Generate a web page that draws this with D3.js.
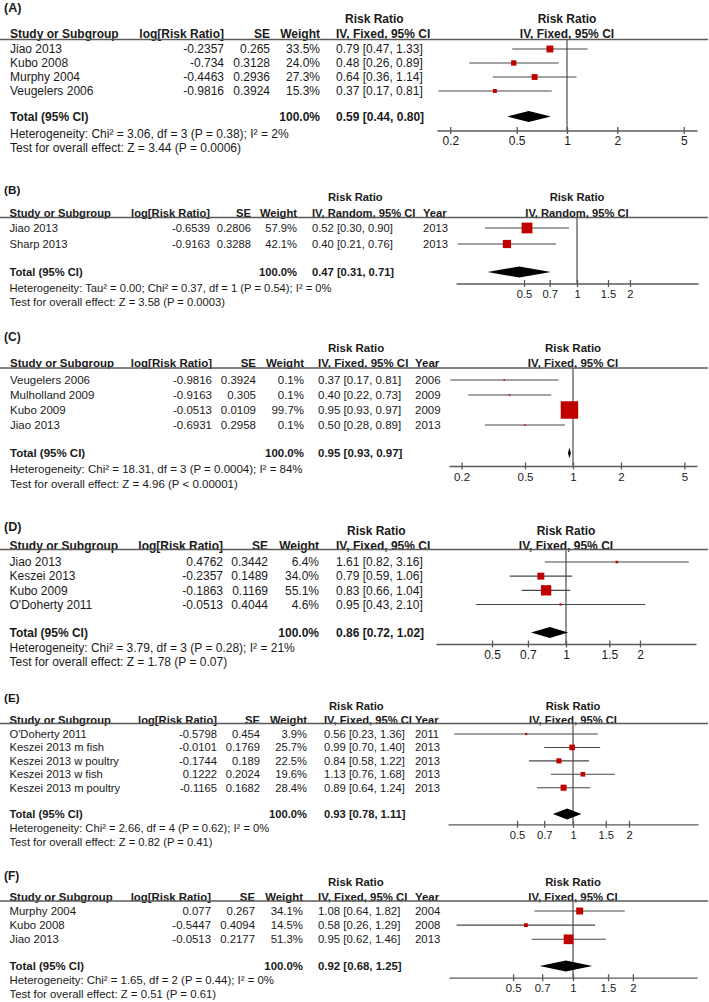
<!DOCTYPE html>
<html>
<head>
<meta charset="utf-8">
<script src="https://cdn.jsdelivr.net/npm/d3@7"></script>
<style>
  body { margin: 0; background: #fff; }
  text { font-family: "Liberation Sans", Arial, sans-serif; fill: #1a1a1a; }
</style>
</head>
<body>
<svg id="chart" width="709" height="1002"></svg>
<script>
// ---- data ----
const studiesA = ["Jiao 2013", "Kubo 2008", "Murphy 2004", "Veugelers 2006"];
const logRRA = [-0.2357, -0.734, -0.4463, -0.9816];
const seA = [0.265, 0.3128, 0.2936, 0.3924];
const weightA = [33.5, 24.0, 27.3, 15.3];
const rrA = [0.79, 0.48, 0.64, 0.37];
const loA = [0.47, 0.26, 0.36, 0.17];
const hiA = [1.33, 0.89, 1.14, 0.81];
const totalA = [0.59, 0.44, 0.80];
const ticksA = [0.2, 0.5, 1, 2, 5];

const studiesB = ["Jiao 2013", "Sharp 2013"];
const logRRB = [-0.6539, -0.9163];
const seB = [0.2806, 0.3288];
const weightB = [57.9, 42.1];
const rrB = [0.52, 0.40];
const loB = [0.30, 0.21];
const hiB = [0.90, 0.76];
const yearsB = [2013, 2013];
const totalB = [0.47, 0.31, 0.71];
const ticksB = [0.5, 0.7, 1, 1.5, 2];

const studiesC = ["Veugelers 2006", "Mulholland 2009", "Kubo 2009", "Jiao 2013"];
const logRRC = [-0.9816, -0.9163, -0.0513, -0.6931];
const seC = [0.3924, 0.305, 0.0109, 0.2958];
const weightC = [0.1, 0.1, 99.7, 0.1];
const rrC = [0.37, 0.40, 0.95, 0.50];
const loC = [0.17, 0.22, 0.93, 0.28];
const hiC = [0.81, 0.73, 0.97, 0.89];
const yearsC = [2006, 2009, 2009, 2013];
const totalC = [0.95, 0.93, 0.97];
const ticksC = [0.2, 0.5, 1, 2, 5];

const studiesD = ["Jiao 2013", "Keszei 2013", "Kubo 2009", "O'Doherty 2011"];
const logRRD = [0.4762, -0.2357, -0.1863, -0.0513];
const seD = [0.3442, 0.1489, 0.1169, 0.4044];
const weightD = [6.4, 34.0, 55.1, 4.6];
const rrD = [1.61, 0.79, 0.83, 0.95];
const loD = [0.82, 0.59, 0.66, 0.43];
const hiD = [3.16, 1.06, 1.04, 2.10];
const totalD = [0.86, 0.72, 1.02];
const ticksD = [0.5, 0.7, 1, 1.5, 2];

const studiesE = ["O'Doherty 2011", "Keszei 2013 m fish", "Keszei 2013 w poultry", "Keszei 2013 w fish", "Keszei 2013 m poultry"];
const logRRE = [-0.5798, -0.0101, -0.1744, 0.1222, -0.1165];
const seE = [0.454, 0.1769, 0.189, 0.2024, 0.1682];
const weightE = [3.9, 25.7, 22.5, 19.6, 28.4];
const rrE = [0.56, 0.99, 0.84, 1.13, 0.89];
const loE = [0.23, 0.70, 0.58, 0.76, 0.64];
const hiE = [1.36, 1.40, 1.22, 1.68, 1.24];
const yearsE = [2011, 2013, 2013, 2013, 2013];
const totalE = [0.93, 0.78, 1.11];
const ticksE = [0.5, 0.7, 1, 1.5, 2];

const studiesF = ["Murphy 2004", "Kubo 2008", "Jiao 2013"];
const logRRF = [0.077, -0.5447, -0.0513];
const seF = [0.267, 0.4094, 0.2177];
const weightF = [34.1, 14.5, 51.3];
const rrF = [1.08, 0.58, 0.95];
const loF = [0.64, 0.26, 0.62];
const hiF = [1.82, 1.29, 1.46];
const yearsF = [2004, 2008, 2013];
const totalF = [0.92, 0.68, 1.25];
const ticksF = [0.5, 0.7, 1, 1.5, 2];

const panels = [
  { tag: "(A)", method: "IV, Fixed, 95% CI", studies: studiesA, logRR: logRRA, se: seA, weight: weightA, rr: rrA, lo: loA, hi: hiA, years: null, total: totalA, ticks: ticksA,
    het: "Heterogeneity: Chi² = 3.06, df = 3 (P = 0.38); I² = 2%", test: "Test for overall effect: Z = 3.44 (P = 0.0006)" },
  { tag: "(B)", method: "IV, Random, 95% CI", studies: studiesB, logRR: logRRB, se: seB, weight: weightB, rr: rrB, lo: loB, hi: hiB, years: yearsB, total: totalB, ticks: ticksB,
    het: "Heterogeneity: Tau² = 0.00; Chi² = 0.37, df = 1 (P = 0.54); I² = 0%", test: "Test for overall effect: Z = 3.58 (P = 0.0003)" },
  { tag: "(C)", method: "IV, Fixed, 95% CI", studies: studiesC, logRR: logRRC, se: seC, weight: weightC, rr: rrC, lo: loC, hi: hiC, years: yearsC, total: totalC, ticks: ticksC,
    het: "Heterogeneity: Chi² = 18.31, df = 3 (P = 0.0004); I² = 84%", test: "Test for overall effect: Z = 4.96 (P < 0.00001)" },
  { tag: "(D)", method: "IV, Fixed, 95% CI", studies: studiesD, logRR: logRRD, se: seD, weight: weightD, rr: rrD, lo: loD, hi: hiD, years: null, total: totalD, ticks: ticksD,
    het: "Heterogeneity: Chi² = 3.79, df = 3 (P = 0.28); I² = 21%", test: "Test for overall effect: Z = 1.78 (P = 0.07)" },
  { tag: "(E)", method: "IV, Fixed, 95% CI", studies: studiesE, logRR: logRRE, se: seE, weight: weightE, rr: rrE, lo: loE, hi: hiE, years: yearsE, total: totalE, ticks: ticksE,
    het: "Heterogeneity: Chi² = 2.66, df = 4 (P = 0.62); I² = 0%", test: "Test for overall effect: Z = 0.82 (P = 0.41)" },
  { tag: "(F)", method: "IV, Fixed, 95% CI", studies: studiesF, logRR: logRRF, se: seF, weight: weightF, rr: rrF, lo: loF, hi: hiF, years: yearsF, total: totalF, ticks: ticksF,
    het: "Heterogeneity: Chi² = 1.65, df = 2 (P = 0.44); I² = 0%", test: "Test for overall effect: Z = 0.51 (P = 0.61)" }
];

// ---- layout of each panel (the panels were pasted at slightly different scales) ----
const layouts = [
  { label: 8, top: 19, head: 34, line: 39.5, rows: [49, 91], total: 116.5, het: 134, test: 148,
    axisY: 130.5, tickY: 141, axisX: [437, 697], half: 6, font: 12, rrX: 345,
    cols: { study: 10, log: 224, se: 270, w: 320, ci: 336, year: null } },
  { label: 190, top: 197, head: 213, line: 217.5, rows: [228, 244], total: 272, het: 288, test: 302,
    axisY: 283.5, tickY: 294.5, axisX: [456, 698], half: 4.87, font: 11.2, rrX: 328,
    cols: { study: 9.5, log: 210, se: 251, w: 297, ci: 312, year: 423 } },
  { label: 337, top: 348, head: 363, line: 368, rows: [380, 425], total: 453, het: 468.5, test: 484,
    axisY: 466, tickY: 477, axisX: [449, 697], half: 6, font: 11.5, rrX: 328,
    cols: { study: 10, log: 212, se: 256, w: 304, ci: 318, year: 415 } },
  { label: 527, top: 531, head: 546, line: 549.5, rows: [562, 604.5], total: 632.5, het: 648, test: 662,
    axisY: 644, tickY: 655, axisX: [436, 696], half: 3.38, font: 12, rrX: 347,
    cols: { study: 9.5, log: 223, se: 268, w: 319, ci: 336, year: null } },
  { label: 698, top: 706, head: 720, line: 723.5, rows: [734, 787.7], total: 814, het: 828.3, test: 842.3,
    axisY: 824.3, tickY: 835, axisX: [448, 698], half: 4.7, font: 11.2, rrX: 329,
    cols: { study: 9.5, log: 217, se: 260, w: 307, ci: 324, year: 415 } },
  { label: 876, top: 881.7, head: 896.7, line: 901, rows: [911, 939.3], total: 966, het: 980.5, test: 994.5,
    axisY: 977.7, tickY: 988.3, axisX: [449, 697], half: 4.2, font: 11.4, rrX: 328,
    cols: { study: 9.5, log: 211, se: 255, w: 303, ci: 318, year: 415 } }
];

const svg = d3.select('#chart');
const red = '#c00000';
const grey = '#5a5a5a';
// box side grows with the study weight
const boxSize = d3.scaleLinear().domain([0, 100]).range([1.5, 17.5]);
const ciText = (r, l, h) => `${r.toFixed(2)} [${l.toFixed(2)}, ${h.toFixed(2)}]`;

function label(g, x, y, s, size, anchor, bold) {
  g.append('text')
    .attr('x', x)
    .attr('y', y)
    .attr('dy', '0.35em')
    .attr('text-anchor', anchor || 'start')
    .style('font-size', size + 'px')
    .style('font-weight', bold ? 'bold' : 'normal')
    .text(s);
}

function drawPanel(p, L) {
  const g = svg.append('g');
  const fs = L.font;
  const c = L.cols;
  const x = d3.scaleLog().domain([1 / L.half, L.half]).range(L.axisX);
  const nullX = x(1);
  const rowY = d3.scaleLinear().domain([0, p.studies.length - 1]).range(L.rows);

  // panel tag and column headers
  label(g, 4, L.label, p.tag, fs * 1.05, 'start', true);
  label(g, L.rrX, L.top, 'Risk Ratio', fs, 'start', true);
  label(g, nullX, L.top, 'Risk Ratio', fs, 'middle', true);
  label(g, c.study, L.head, 'Study or Subgroup', fs, 'start', true);
  label(g, c.log, L.head, 'log[Risk Ratio]', fs, 'end', true);
  label(g, c.se, L.head, 'SE', fs, 'end', true);
  label(g, c.w, L.head, 'Weight', fs, 'end', true);
  label(g, c.ci, L.head, p.method, fs, 'start', true);
  if (p.years) label(g, c.year, L.head, 'Year', fs, 'start', true);
  label(g, nullX, L.head, p.method, fs, 'middle', true);

  g.append('line')
    .attr('x1', 0).attr('x2', 708)
    .attr('y1', L.line).attr('y2', L.line)
    .attr('stroke', grey).attr('stroke-width', 1.4);

  // study rows
  p.studies.forEach(function(s, i) {
    const y = rowY(i);
    label(g, c.study, y, s, fs);
    label(g, c.log, y, String(p.logRR[i]), fs, 'end');
    label(g, c.se, y, String(p.se[i]), fs, 'end');
    label(g, c.w, y, p.weight[i].toFixed(1) + '%', fs, 'end');
    label(g, c.ci, y, ciText(p.rr[i], p.lo[i], p.hi[i]), fs);
    if (p.years) label(g, c.year, y, String(p.years[i]), fs);
  });

  // null line
  g.append('line')
    .attr('x1', nullX).attr('x2', nullX)
    .attr('y1', L.line).attr('y2', L.axisY)
    .attr('stroke', grey).attr('stroke-width', 1.3);

  // confidence intervals
  g.selectAll('line.ci')
    .data(p.studies)
    .join('line')
    .attr('class', 'ci')
    .attr('x1', (d, i) => x(p.lo[i]))
    .attr('x2', (d, i) => x(p.hi[i]))
    .attr('y1', (d, i) => rowY(i))
    .attr('y2', (d, i) => rowY(i))
    .attr('stroke', '#474747')
    .attr('stroke-width', 1.1);

  // weight boxes
  g.selectAll('rect.box')
    .data(p.studies)
    .join('rect')
    .attr('class', 'box')
    .attr('x', (d, i) => x(p.rr[i]) - boxSize(p.weight[i]) / 2)
    .attr('y', (d, i) => rowY(i) - boxSize(p.weight[i]) / 2)
    .attr('width', (d, i) => boxSize(p.weight[i]))
    .attr('height', (d, i) => boxSize(p.weight[i]))
    .attr('fill', red);

  // total row
  const t = p.total;
  label(g, c.study, L.total, 'Total (95% CI)', fs, 'start', true);
  label(g, c.w, L.total, '100.0%', fs, 'end', true);
  label(g, c.ci, L.total, ciText(t[0], t[1], t[2]), fs, 'start', true);
  const dh = 5.5;
  g.append('path')
    .attr('d', `M${x(t[1])},${L.total} L${x(t[0])},${L.total - dh} L${x(t[2])},${L.total} L${x(t[0])},${L.total + dh} Z`)
    .attr('fill', '#000');

  label(g, c.study, L.het, p.het, fs);
  label(g, c.study, L.test, p.test, fs);

  // axis
  const ax = g.append('g')
    .attr('transform', `translate(0,${L.axisY})`)
    .call(d3.axisBottom(x).tickValues(p.ticks).tickFormat(d => String(d)).tickSizeOuter(0));
  ax.select('.domain').attr('stroke', grey).attr('stroke-width', 1.3);
  ax.selectAll('.tick line').attr('y1', -3.5).attr('y2', 3.5).attr('stroke', grey).attr('stroke-width', 1.3);
  ax.selectAll('.tick text')
    .attr('y', L.tickY - L.axisY)
    .attr('dy', '0.35em')
    .style('font-size', fs + 'px')
    .style('font-family', '"Liberation Sans", Arial, sans-serif')
    .attr('fill', '#1a1a1a');
}

panels.forEach((p, i) => drawPanel(p, layouts[i]));
</script>
</body>
</html>
